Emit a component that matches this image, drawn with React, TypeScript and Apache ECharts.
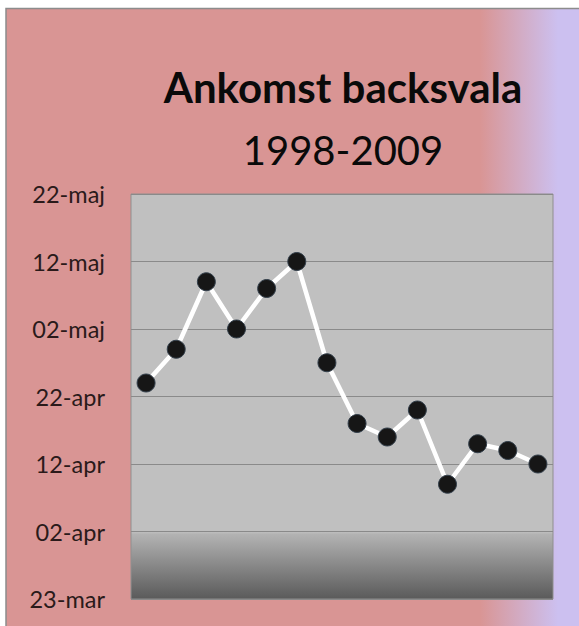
import React, { useEffect, useRef } from "react";
import * as echarts from "echarts";

// Observation points (order along the x axis)
const points = ["1", "2", "3", "4", "5", "6", "7", "8", "9", "10", "11", "12", "13", "14"];
// Arrival date for each point
const arrivals = [
  "24-apr", "29-apr", "09-maj", "02-maj", "08-maj", "12-maj", "27-apr",
  "18-apr", "16-apr", "20-apr", "09-apr", "15-apr", "14-apr", "12-apr",
];
// Y-axis tick labels, every 10 days from 23-mar
const tickLabels = ["23-mar", "02-apr", "12-apr", "22-apr", "02-maj", "12-maj", "22-maj"];

const titleText = "Ankomst backsvala";
const subTitleText = "1998-2009";

// days after 23 March
const monthOffset: Record<string, number> = { mar: -23, apr: 8, maj: 38 };
const toDays = (s: string) => {
  const [d, m] = s.split("-");
  return parseInt(d, 10) + monthOffset[m];
};
const values = arrivals.map(toDays);

export default function App() {
  const ref = useRef<HTMLDivElement>(null);
  useEffect(() => {
    if (!ref.current) return;
    const chart = echarts.init(ref.current, undefined, { renderer: "svg" });
    chart.setOption({
      animation: false,
      backgroundColor: "#ffffff",
      textStyle: { fontFamily: "Lato" },
      graphic: [
        {
          type: "rect",
          z: -10,
          silent: true,
          shape: { x: 6, y: 8.5, width: 600, height: 640 },
          style: {
            fill: new echarts.graphic.LinearGradient(0, 0, 1, 0, [
              { offset: 0, color: "#d99594" },
              { offset: 0.79, color: "#d99594" },
              { offset: 0.92, color: "#ccc0f0" },
              { offset: 1, color: "#ccc0f0" },
            ]),
            stroke: "#8c8c8c",
            lineWidth: 1.5,
          },
        },
        {
          type: "text",
          x: 343,
          y: 87,
          style: {
            text: titleText,
            fontFamily: "Lato",
            fontWeight: "bold",
            fontSize: 42,
            fill: "#0a0a0a",
            textAlign: "center",
            textVerticalAlign: "middle",
          },
        },
        {
          type: "text",
          x: 343,
          y: 150,
          style: {
            text: subTitleText,
            fontFamily: "Lato",
            fontSize: 40,
            fill: "#0a0a0a",
            textAlign: "center",
            textVerticalAlign: "middle",
          },
        },
      ],
      grid: {
        left: 131,
        top: 194,
        width: 422,
        height: 405,
        show: true,
        borderColor: "#8f8f8f",
        borderWidth: 1,
        backgroundColor: new echarts.graphic.LinearGradient(0, 0, 0, 1, [
          { offset: 0, color: "#c0c0c0" },
          { offset: 0.834, color: "#c0c0c0" },
          { offset: 0.84, color: "#b3b3b3" },
          { offset: 1, color: "#5a5a5a" },
        ]),
      },
      xAxis: {
        type: "category",
        data: points,
        boundaryGap: true,
        show: false,
      },
      yAxis: {
        type: "value",
        min: 0,
        max: 60,
        interval: 10,
        axisLine: { show: false },
        axisTick: { show: false },
        splitLine: { show: true, lineStyle: { color: "#8a8a8a", width: 1.2 } },
        axisLabel: {
          margin: 26,
          fontFamily: "Lato",
          fontSize: 23.5,
          color: "#2a1a1a",
          formatter: (v: number) => tickLabels[Math.round(v / 10)] ?? "",
        },
      },
      series: [
        {
          type: "line",
          data: values,
          symbol: "circle",
          symbolSize: 18,
          lineStyle: { color: "#ffffff", width: 4.5 },
          itemStyle: { color: "#161616", borderColor: "#34404c", borderWidth: 1 },
          z: 3,
        },
      ],
    });
    return () => chart.dispose();
  }, []);
  return (
    <div
      ref={ref}
      style={{ position: "fixed", left: 0, top: 0, width: 579, height: 626 }}
    />
  );
}
